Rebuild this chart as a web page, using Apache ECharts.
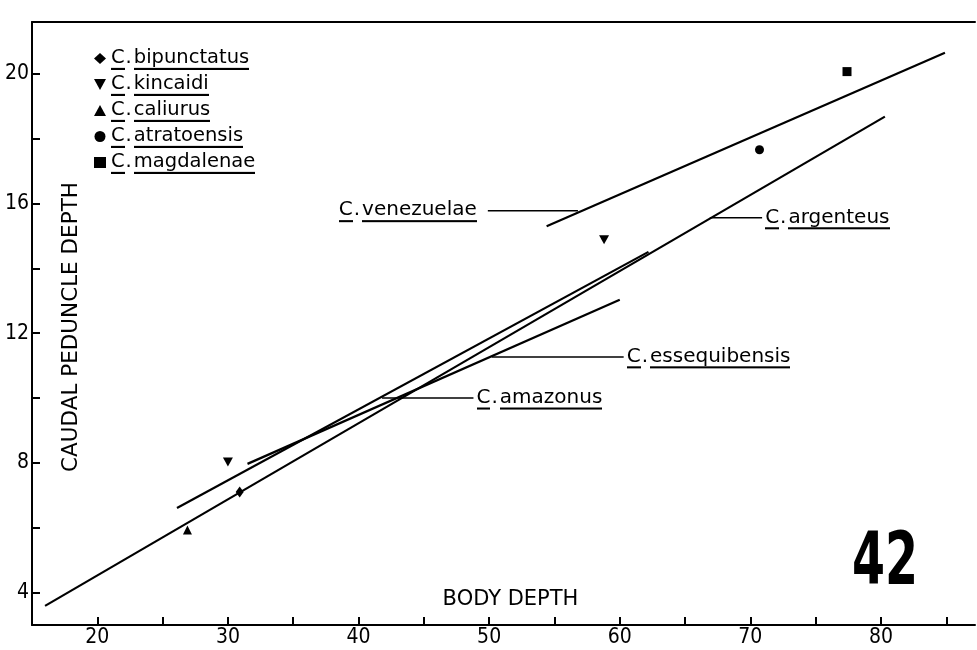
<!DOCTYPE html>
<html>
<head>
<meta charset="utf-8">
<script src="https://cdn.jsdelivr.net/npm/echarts@6/dist/echarts.min.js"></script>
<style>
  html, body { margin: 0; padding: 0; background: #fff; }
  #chart-container { width: 977px; height: 650px; }
</style>
</head>
<body>
<div id="chart-container"></div>
<script>
// scatter points, one species each
var speciesNames = ['bipunctatus', 'kincaidi', 'caliurus', 'atratoensis', 'magdalenae'];
var speciesSymbols = ['diamond', 'path://M0,0 L10,0 L5,9 Z', 'triangle', 'circle', 'rect'];
var bipunctatusPts = [[30.9, 7.1]];
var kincaidiPts = [[30.0, 8.03], [58.8, 14.88]];
var caliurusPts = [[26.9, 5.93]];
var atratoensisPts = [[70.7, 17.66]];
var magdalenaePts = [[77.4, 20.07]];

// regression lines, start and end
var venezuelaeLine = [[54.4, 15.3], [84.9, 20.65]];
var argenteusLine = [[16.0, 3.59], [80.3, 18.68]];
var amazonusLine = [[26.1, 6.61], [62.2, 14.51]];
var essequibensisLine = [[31.5, 7.97], [60.0, 13.03]];

// pointer lines for the line labels
var pointerNames = ['venezuelae', 'argenteus', 'essequibensis', 'amazonus'];
var pointerY = [15.78, 15.56, 11.27, 10.0];
var pointerX0 = [49.9, 66.9, 50.2, 41.8];
var pointerX1 = [56.8, 70.9, 60.3, 48.8];

var xTicks = [15, 20, 25, 30, 35, 40, 45, 50, 55, 60, 65, 70, 75, 80, 85];
var xLabels = [20, 30, 40, 50, 60, 70, 80];
var yTicks = [4, 6, 8, 10, 12, 14, 16, 18, 20];
var yLabels = [4, 8, 12, 16, 20];

var FONT = "'DejaVu Sans', sans-serif";
var NUMFONT = "'DejaVu Sans Condensed', 'DejaVu Sans', sans-serif";

// small image used as an underline behind rich text
var ulImg = document.createElement('canvas');
ulImg.width = 4; ulImg.height = 24;
var g = ulImg.getContext('2d');
g.fillStyle = '#000';
g.fillRect(0, 21, 4, 2);

function makeRich(size) {
  return {
    u: { backgroundColor: { image: ulImg }, padding: [2, 0, 3, 0], fontSize: size, fontFamily: FONT, color: '#000' },
    d: { padding: [2, 2, 3, 1], fontSize: size, fontFamily: FONT, color: '#000' }
  };
}
function sp(name) {
  return '{u|C}{d|.}{u|' + name + '}';
}

var dom = document.getElementById('chart-container');
var myChart = echarts.init(dom, null, { renderer: 'canvas' });

var pts = [bipunctatusPts, kincaidiPts, caliurusPts, atratoensisPts, magdalenaePts];
var series = [];

speciesNames.forEach(function (n, i) {
  series.push({
    name: n,
    type: 'scatter',
    data: pts[i],
    symbol: speciesSymbols[i],
    symbolSize: i === 1 ? [10, 9] : (i === 0 ? [8, 11] : 9),
    itemStyle: { color: '#000', opacity: 1 },
    z: 5
  });
});

[venezuelaeLine, argenteusLine, amazonusLine, essequibensisLine].forEach(function (d) {
  series.push({
    type: 'line',
    data: d,
    symbol: 'none',
    lineStyle: { color: '#000', width: 2.2 },
    silent: true
  });
});

pointerNames.forEach(function (n, i) {
  var left = i === 0;
  var a = { value: [pointerX0[i], pointerY[i]] };
  var b = { value: [pointerX1[i], pointerY[i]] };
  var lab = {
    show: true,
    formatter: sp(n),
    position: left ? 'left' : 'right',
    distance: left ? 11 : 3,
    rich: makeRich(20)
  };
  if (left) a.label = lab; else b.label = lab;
  series.push({
    type: 'line',
    data: [a, b],
    symbol: 'circle',
    symbolSize: 0.1,
    showSymbol: true,
    itemStyle: { color: '#000' },
    lineStyle: { color: '#000', width: 1.5 },
    silent: true
  });
});

var option = {
  backgroundColor: '#fff',
  animation: false,
  grid: { left: 32, right: 2, top: 22, bottom: 25 },
  legend: {
    data: speciesNames,
    orient: 'vertical',
    left: 89,
    top: 41,
    itemGap: 1,
    itemWidth: 12,
    itemHeight: 11,
    formatter: function (n) { return sp(n); },
    textStyle: { color: '#000', fontSize: 19.5, fontFamily: FONT, rich: makeRich(19.5) }
  },
  xAxis: [{
    type: 'value',
    min: 15,
    max: 87.2,
    splitLine: { show: false },
    axisLine: { onZero: false, lineStyle: { color: '#000', width: 2 } },
    axisTick: { inside: true, length: 8, customValues: xTicks, lineStyle: { color: '#000', width: 2 } },
    axisLabel: { customValues: xLabels, color: '#000', fontSize: 21, fontFamily: NUMFONT, margin: 2 },
    name: 'BODY DEPTH',
    nameLocation: 'middle',
    nameGap: -36,
    nameTextStyle: { color: '#000', fontSize: 21, fontFamily: FONT, padding: [0, 0, 0, 14] }
  }, {
    type: 'value',
    position: 'top',
    min: 15,
    max: 87.2,
    splitLine: { show: false },
    axisTick: { show: false },
    axisLabel: { show: false },
    axisLine: { onZero: false, lineStyle: { color: '#000', width: 2 } }
  }],
  yAxis: {
    type: 'value',
    min: 3,
    max: 21.6,
    splitLine: { show: false },
    axisLine: { onZero: false, lineStyle: { color: '#000', width: 2 } },
    axisTick: { inside: true, length: 8, customValues: yTicks, lineStyle: { color: '#000', width: 2 } },
    axisLabel: { customValues: yLabels, color: '#000', fontSize: 21, fontFamily: NUMFONT, margin: 3 },
    name: 'CAUDAL PEDUNCLE DEPTH',
    nameLocation: 'middle',
    nameGap: -50,
    nameTextStyle: { color: '#000', fontSize: 21.5, fontFamily: FONT, padding: [0, 7, 0, 0] }
  },
  graphic: [{
    type: 'text',
    x: 852,
    y: 529,
    scaleX: 0.65,
    style: {
      text: '42',
      fill: '#000',
      font: "bold 73px 'DejaVu Sans', sans-serif"
    }
  }],
  series: series
};

myChart.setOption(option);
window.addEventListener('resize', myChart.resize);
</script>
</body>
</html>
